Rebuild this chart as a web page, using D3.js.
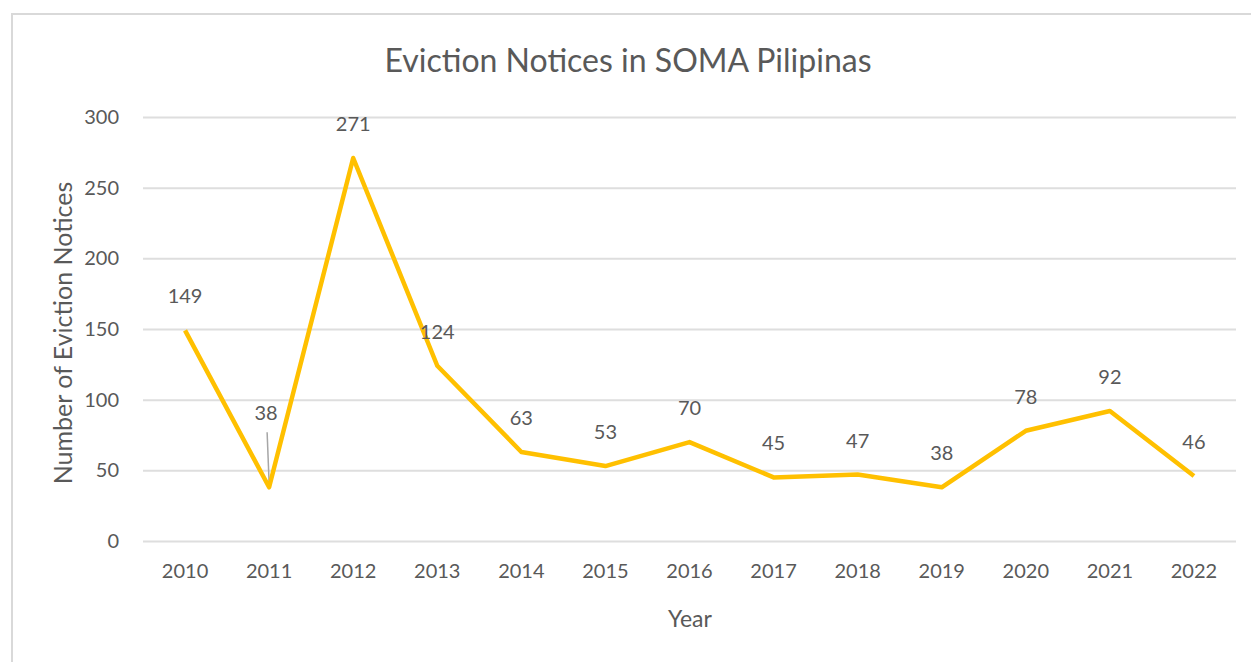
<!DOCTYPE html>
<html>
<head>
<meta charset="utf-8">
<script src="https://cdn.jsdelivr.net/npm/d3@7"></script>
<style>
  body { margin: 0; background: #fff; }
  svg text { font-family: Lato, "Open Sans", sans-serif; fill: #595959; }
</style>
</head>
<body>
<svg id="chart" width="1251" height="662"></svg>
<script>
(function () {
    'use strict';

    var years = ['2010', '2011', '2012', '2013', '2014', '2015', '2016',
                 '2017', '2018', '2019', '2020', '2021', '2022'];
    var notices = [149, 38, 271, 124, 63, 53, 70, 45, 47, 38, 78, 92, 46];
    var yTicks = [0, 50, 100, 150, 200, 250, 300];

    var W = 1251, H = 662,
        plotL = 143, plotR = 1236, plotT = 117, plotB = 541;

    var svg = d3.select('#chart');

    // chart area frame
    svg.append('rect')
        .attr('x', 12).attr('y', 14)
        .attr('width', W + 10).attr('height', H + 10)
        .attr('fill', '#fff')
        .attr('stroke', '#d9d9d9')
        .attr('stroke-width', 2);

    var x = d3.scaleBand()
        .domain(years)
        .range([plotL, plotR]);

    var y = d3.scaleLinear()
        .domain([0, 300])
        .range([plotB, plotT]);

    // gridlines + y labels
    var yAxis = d3.axisLeft(y)
        .tickValues(yTicks)
        .tickSize(-(plotR - plotL))
        .tickPadding(24);

    svg.append('g')
        .attr('transform', 'translate(' + plotL + ',0)')
        .call(yAxis)
        .call(function (g) {
            g.select('.domain').remove();
            g.selectAll('.tick line').attr('stroke', '#dedede').attr('stroke-width', 2);
            g.selectAll('.tick text').attr('font-size', 20).attr('fill', '#595959');
        });

    var xAxis = d3.axisBottom(x)
        .tickSize(0)
        .tickPadding(23);

    svg.append('g')
        .attr('transform', 'translate(0,' + plotB + ')')
        .call(xAxis)
        .call(function (g) {
            g.select('.domain').remove();
            g.selectAll('.tick text').attr('font-size', 20).attr('fill', '#595959');
        });

    // titles
    svg.append('text')
        .attr('x', 628).attr('y', 72)
        .attr('text-anchor', 'middle')
        .attr('font-size', 32)
        .text('Eviction Notices in SOMA Pilipinas');

    svg.append('text')
        .attr('x', 690).attr('y', 627)
        .attr('text-anchor', 'middle')
        .attr('font-size', 23)
        .text('Year');

    svg.append('text')
        .attr('transform', 'translate(72,333) rotate(-90)')
        .attr('text-anchor', 'middle')
        .attr('font-size', 25)
        .text('Number of Eviction Notices');

    var pts = years.map(function (yr, i) {
        return { year: yr, value: notices[i] };
    });

    var line = d3.line()
        .x(function (d) { return x(d.year) + x.bandwidth() / 2; })
        .y(function (d) { return y(d.value); });

    // leader line for the 2011 label
    var lead = pts[1];
    svg.append('line')
        .attr('x1', x(lead.year) + x.bandwidth() / 2 - 2)
        .attr('y1', y(lead.value) - 55)
        .attr('x2', x(lead.year) + x.bandwidth() / 2)
        .attr('y2', y(lead.value) - 4)
        .attr('stroke', '#a6a6a6')
        .attr('stroke-width', 1.5);

    svg.append('path')
        .datum(pts)
        .attr('d', line)
        .attr('fill', 'none')
        .attr('stroke', '#ffc000')
        .attr('stroke-width', 4.5)
        .attr('stroke-linejoin', 'round');

    svg.selectAll('.dlabel')
        .data(pts)
        .enter()
        .append('text')
        .attr('class', 'dlabel')
        .attr('x', function (d, i) {
            return x(d.year) + x.bandwidth() / 2 + (i === 1 ? -3 : 0);
        })
        .attr('y', function (d, i) {
            return y(d.value) - (i === 1 ? 67 : 27);
        })
        .attr('text-anchor', 'middle')
        .attr('font-size', 20)
        .text(function (d) { return d.value; });
}());
</script>
</body>
</html>
